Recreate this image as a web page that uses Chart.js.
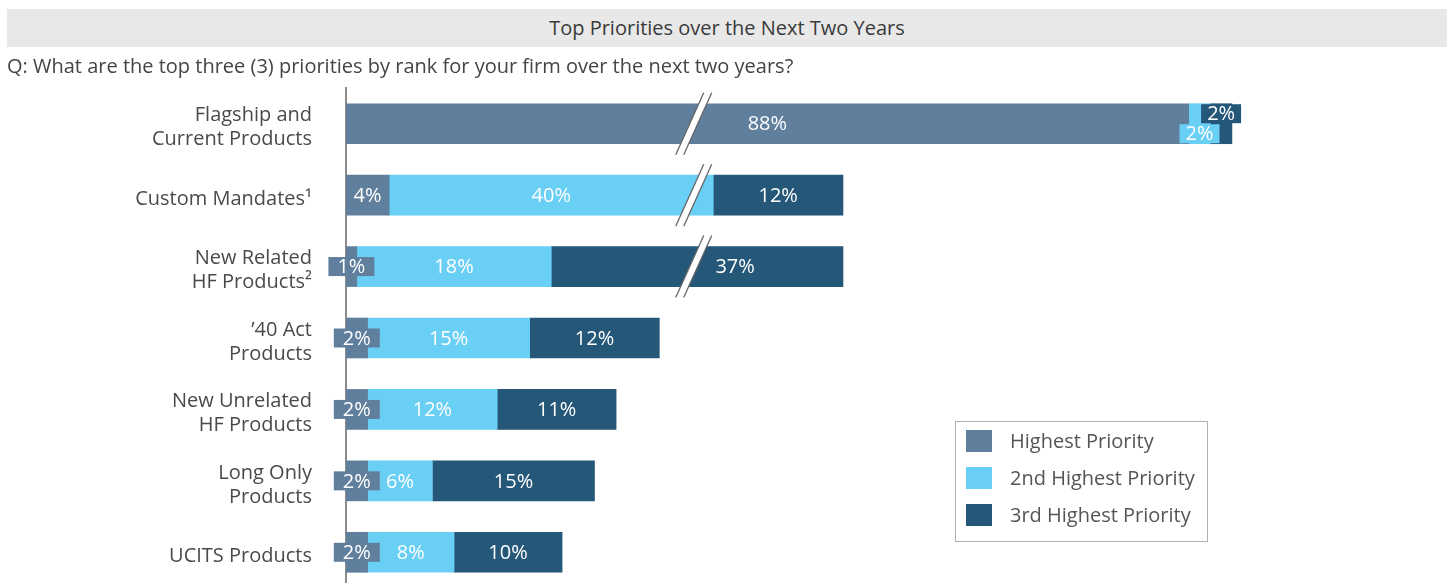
<!DOCTYPE html>
<html>
<head>
<meta charset="utf-8">
<script src="https://cdn.jsdelivr.net/npm/chart.js@4.4.1/dist/chart.umd.min.js"></script>
<style>
  body { margin: 0; overflow: hidden; background: #fff; font-family: "Open Sans", sans-serif; }
  #wrap { position: relative; width: 1450px; height: 583px; overflow: hidden; }
  #chart { position: absolute; left: 0; top: 0; width: 1450px; height: 600px; }
  .head { position: absolute; left: 7px; top: 9px; width: 1440px; height: 38px; line-height: 38px;
          background: #e8e8e8; color: #3a3a3a; font-size: 20px; text-align: center; }
  .question { position: absolute; left: 7px; top: 52px; color: #444; font-size: 20px; }
</style>
</head>
<body>
<div id="wrap">
  <canvas id="chart" width="1450" height="600"></canvas>
  <div class="head">Top Priorities over the Next Two Years</div>
  <div class="question">Q: What are the top three (3) priorities by rank for your firm over the next two years?</div>
</div>
<script>
const categories = [
  ['Flagship and', 'Current Products'],
  'Custom Mandates\u00b9',
  ['New Related', 'HF Products\u00b2'],
  ['\u201940 Act', 'Products'],
  ['New Unrelated', 'HF Products'],
  ['Long Only', 'Products'],
  'UCITS Products'
]
const highest = [88, 4, 1, 2, 2, 2, 2]
const second = [2, 40, 18, 15, 12, 6, 8]
const third = [2, 12, 37, 12, 11, 15, 10]
const seriesNames = ['Highest Priority', '2nd Highest Priority', '3rd Highest Priority']
const colors = ['#5f7f9d', '#6acff5', '#245778']

// axis is broken between these two values
const breakFrom = 32
const breakTo = 42

function squeeze(v) {
  if (v <= breakFrom) return v
  return Math.max(breakFrom, v - (breakTo - breakFrom))
}

// drawn length of each stacked piece once the gap is cut out
const series = [highest, second, third]
const drawn = series.map(() => [])
categories.forEach((c, i) => {
  let start = 0
  series.forEach((s, d) => {
    const end = start + s[i]
    drawn[d].push(squeeze(end) - squeeze(start))
    start = end
  })
})

// a few labels sit off the centre in the original
const labelShift = { '2-2': [38, 0], '0-1': [0, 10], '0-2': [0, -10] }

const breakMarks = {
  id: 'breakMarks',
  afterDatasetsDraw(chart) {
    const ctx = chart.ctx
    const xs = chart.scales.x
    const x0 = xs.getPixelForValue(breakFrom) + 2
    const meta = chart.getDatasetMeta(0)
    categories.forEach((c, i) => {
      const total = highest[i] + second[i] + third[i]
      if (total <= breakFrom) return
      const yc = meta.data[i].y
      const h = 31, slope = 14, gap = 4
      ctx.save()
      ctx.beginPath()
      ctx.moveTo(x0 - gap + slope, yc - h)
      ctx.lineTo(x0 + gap + slope, yc - h)
      ctx.lineTo(x0 + gap - slope, yc + h)
      ctx.lineTo(x0 - gap - slope, yc + h)
      ctx.closePath()
      ctx.fillStyle = '#fff'
      ctx.fill()
      ctx.strokeStyle = '#666'
      ctx.lineWidth = 1.3
      ctx.beginPath()
      ctx.moveTo(x0 - gap + slope, yc - h)
      ctx.lineTo(x0 - gap - slope, yc + h)
      ctx.moveTo(x0 + gap + slope, yc - h)
      ctx.lineTo(x0 + gap - slope, yc + h)
      ctx.stroke()
      ctx.restore()
    })
  }
}

const valueLabels = {
  id: 'valueLabels',
  afterDatasetsDraw(chart) {
    const ctx = chart.ctx
    ctx.save()
    ctx.font = '20px "Open Sans", sans-serif'
    ctx.textAlign = 'center'
    ctx.textBaseline = 'middle'
    series.forEach((s, d) => {
      const meta = chart.getDatasetMeta(d)
      meta.data.forEach((bar, i) => {
        const text = s[i] + '%'
        const shift = labelShift[i + '-' + d] || [0, 0]
        const x = (bar.x + bar.base) / 2 + shift[0]
        const y = bar.y + shift[1]
        if (s[i] <= 2) {
          const w = ctx.measureText(text).width + (d === 0 ? 18 : 12)
          ctx.fillStyle = colors[d]
          ctx.fillRect(x - w / 2, y - 9.5, w, 19)
        }
        ctx.fillStyle = '#fff'
        ctx.fillText(text, x, y + 1)
      })
    })
    ctx.restore()
  }
}

const boxLegend = {
  id: 'boxLegend',
  afterDraw(chart) {
    const ctx = chart.ctx
    ctx.save()
    ctx.strokeStyle = '#b0b0b0'
    ctx.lineWidth = 1
    ctx.strokeRect(955.5, 421.5, 252, 120)
    ctx.font = '20px "Open Sans", sans-serif'
    ctx.textBaseline = 'middle'
    seriesNames.forEach((name, k) => {
      const y = 441 + k * 37
      ctx.fillStyle = colors[k]
      ctx.fillRect(966, y - 11, 26, 22)
      ctx.fillStyle = '#555'
      ctx.fillText(name, 1010, y + 1)
    })
    ctx.restore()
  }
}

new Chart(
  document.getElementById('chart'),
  {
    type: 'bar',
    data: {
      labels: categories,
      datasets: seriesNames.map((name, d) => ({
        label: name,
        data: drawn[d],
        backgroundColor: colors[d],
        borderWidth: 0,
        barThickness: 40
      }))
    },
    options: {
      indexAxis: 'y',
      responsive: false,
      animation: false,
      layout: { padding: { top: 88, bottom: 12, right: 2 } },
      plugins: {
        legend: { display: false },
        tooltip: { enabled: false }
      },
      scales: {
        x: {
          stacked: true,
          display: false,
          min: 0,
          max: 102
        },
        y: {
          stacked: true,
          grid: { display: false },
          border: { display: true, color: '#8c8c8c', width: 2 },
          afterFit(scale) {
            scale.width = 346
            scale.paddingTop = 0
            scale.paddingBottom = 0
          },
          ticks: {
            padding: 26,
            labelOffset: 4,
            color: '#4a4a4a',
            font: { family: '"Open Sans", sans-serif', size: 20, lineHeight: 1.2 }
          }
        }
      }
    },
    plugins: [breakMarks, valueLabels, boxLegend]
  }
)
</script>
</body>
</html>
